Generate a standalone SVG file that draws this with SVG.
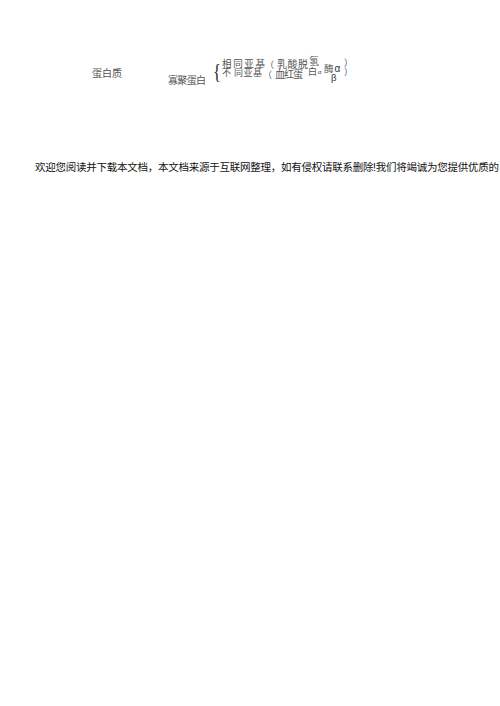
<svg xmlns="http://www.w3.org/2000/svg" width="500" height="706" viewBox="0 0 500 706">
<style>
.s{font-family:"Liberation Serif","Noto Sans CJK SC",serif;fill:#555;font-size:10px}
.g{font-family:"Liberation Sans","Noto Sans CJK SC",sans-serif;fill:#333}
.b{font-family:"Liberation Sans","Noto Sans CJK SC",sans-serif;fill:#111;font-size:10.5px}
</style>
<rect width="500" height="706" fill="#fff"/>
<g id="formula">
<text class="s" x="92" y="77" textLength="30">蛋白质</text>
<text class="s" x="168" y="84" textLength="38">寡聚蛋白</text>
<text x="213" y="78" style="font-family:'Liberation Serif',serif;font-size:22px;fill:#222" transform="translate(213 78) scale(0.75 1) translate(-213 -78)">{</text>
<text class="s" x="222" y="67" style="font-size:9.5px" textLength="43">相同亚基</text>
<text class="s" x="222" y="76" style="font-size:9px" textLength="40">不 同亚基</text>
<text class="s" x="265" y="68" style="font-size:9px">（</text>
<text class="s" x="277" y="68" textLength="31">乳酸脱</text>
<text class="s" x="309" y="65">氢</text>
<text class="s" x="308" y="75" style="font-size:9px">白</text>
<text class="g" x="318" y="74" style="font-size:6px">α</text>
<text class="s" x="324" y="72" style="font-size:9.5px">酶</text>
<text class="g" x="334.5" y="72" style="font-size:10px">α</text>
<text class="s" x="344" y="66" style="font-size:9px">）</text>
<text class="s" x="263" y="78" style="font-size:9px">（</text>
<text class="s" x="275" y="78" textLength="28">血红蛋</text>
<text class="g" x="331" y="81" style="font-size:9.5px">β</text>
<text class="s" x="344" y="75" style="font-size:9px">）</text>
</g>
<g id="footer">
<text class="b" x="35" y="171" textLength="464">欢迎您阅读并下载本文档，本文档来源于互联网整理，如有侵权请联系删除!我们将竭诚为您提供优质的</text>
</g>
</svg>
